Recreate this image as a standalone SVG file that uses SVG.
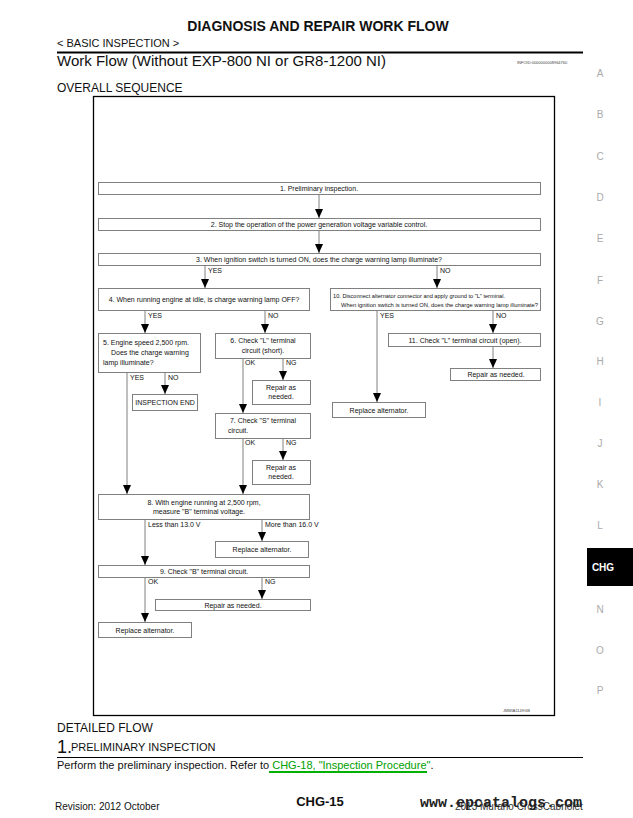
<svg xmlns="http://www.w3.org/2000/svg" width="633" height="818" viewBox="0 0 633 818">
<defs>
<style>
text{font-family:"Liberation Sans",Arial,sans-serif;fill:#111}
.b rect{fill:#fff;stroke:#808080;stroke-width:1}
.t{font-size:7px}
.c{text-anchor:middle}
.lbl{font-size:7px}
.side{font-size:10px;fill:#aaa;text-anchor:middle}
#conn line{stroke:#808080;stroke-width:1}
#conn line.a{marker-end:url(#ah)}
</style>
<marker id="ah" markerUnits="userSpaceOnUse" markerWidth="9" markerHeight="8" refX="9" refY="4" orient="auto" viewBox="0 0 9 8">
<path d="M0,0 L9,4 L0,8 Z" fill="#000"/>
</marker>
</defs>
<rect width="633" height="818" fill="#fff"/>

<text x="318" y="31" class="c" style="font-size:14px;font-weight:bold">DIAGNOSIS AND REPAIR WORK FLOW</text>
<text x="57" y="47" style="font-size:11px">&lt; BASIC INSPECTION &gt;</text>
<line x1="57" y1="52.5" x2="583" y2="52.5" stroke="#000" stroke-width="2"/>
<text x="57" y="66" style="font-size:15px">Work Flow (Without EXP-800 NI or GR8-1200 NI)</text>
<text x="517" y="64" style="font-size:4px;fill:#444">INFOID:0000000008964760</text>
<text x="57" y="92" style="font-size:12px">OVERALL SEQUENCE</text>

<rect x="93.5" y="96.5" width="461" height="619" fill="none" stroke="#000" stroke-width="1.3"/>
<text x="503" y="712" style="font-size:4px;fill:#444">JMMIA1149GB</text>

<g id="conn">
<line class="a" x1="319" y1="195" x2="319" y2="218"/>
<line class="a" x1="319" y1="230" x2="319" y2="253"/>
<line class="a" x1="205" y1="265" x2="205" y2="288"/>
<line class="a" x1="437" y1="265" x2="437" y2="288"/>
<line class="a" x1="145" y1="310" x2="145" y2="333"/>
<line class="a" x1="265" y1="310" x2="265" y2="333"/>
<line class="a" x1="127" y1="372" x2="127" y2="494"/>
<line class="a" x1="165" y1="372" x2="165" y2="394"/>
<line class="a" x1="243" y1="358" x2="243" y2="413"/>
<line class="a" x1="283" y1="358" x2="283" y2="380"/>
<line class="a" x1="243" y1="438" x2="243" y2="494"/>
<line class="a" x1="283" y1="438" x2="283" y2="460"/>
<line class="a" x1="145" y1="519" x2="145" y2="565"/>
<line class="a" x1="262" y1="519" x2="262" y2="541"/>
<line class="a" x1="145" y1="577" x2="145" y2="622"/>
<line class="a" x1="262" y1="577" x2="262" y2="599"/>
<line class="a" x1="377" y1="310" x2="377" y2="402"/>
<line class="a" x1="493" y1="310" x2="493" y2="333"/>
<line class="a" x1="493" y1="346" x2="493" y2="368"/>
<g class="lbl">
<text x="208" y="273" class="t">YES</text>
<text x="440" y="273" class="t">NO</text>
<text x="148" y="318" class="t">YES</text>
<text x="268" y="318" class="t">NO</text>
<text x="130" y="380" class="t">YES</text>
<text x="168" y="380" class="t">NO</text>
<text x="245" y="365" class="t">OK</text>
<text x="286" y="365" class="t">NG</text>
<text x="245" y="445" class="t">OK</text>
<text x="286" y="445" class="t">NG</text>
<text x="148" y="527" class="t">Less than 13.0 V</text>
<text x="265" y="527" class="t">More than 16.0 V</text>
<text x="148" y="584" class="t">OK</text>
<text x="265" y="584" class="t">NG</text>
<text x="380" y="318" class="t">YES</text>
<text x="496" y="318" class="t">NO</text>
</g>
</g>

<g id="n1" class="b"><rect x="98.5" y="182.5" width="442" height="12"/><text x="319" y="191" class="t c">1. Preliminary inspection.</text></g>
<g id="n2" class="b"><rect x="98.5" y="218.5" width="442" height="12"/><text x="319" y="227" class="t c">2. Stop the operation of the power generation voltage variable control.</text></g>
<g id="n3" class="b"><rect x="98.5" y="253.5" width="442" height="12"/><text x="319" y="262" class="t c">3. When ignition switch is turned ON, does the charge warning lamp illuminate?</text></g>
<g id="n4" class="b"><rect x="98.5" y="288.5" width="211" height="22"/><text x="204" y="301.5" class="t c">4. When running engine at idle, is charge warning lamp OFF?</text></g>
<g id="n10" class="b"><rect x="330.5" y="288.5" width="210" height="22"/><text x="333" y="297.5" class="t" style="font-size:6.2px" textLength="172" lengthAdjust="spacingAndGlyphs">10. Disconnect alternator connector and apply ground to "L" terminal.</text><text x="341" y="306.5" class="t" style="font-size:6.2px" textLength="197" lengthAdjust="spacingAndGlyphs">When ignition switch is turned ON, does the charge warning lamp illuminate?</text></g>
<g id="n5" class="b"><rect x="98.5" y="333.5" width="102" height="39"/><text x="103" y="345" class="t">5. Engine speed 2,500 rpm.</text><text x="111" y="355" class="t">Does the charge warning</text><text x="103" y="365" class="t">lamp illuminate?</text></g>
<g id="n6" class="b"><rect x="215.5" y="333.5" width="95" height="25"/><text x="263" y="343" class="t c">6. Check "L" terminal</text><text x="263" y="353" class="t c">circuit (short).</text></g>
<g id="nEnd" class="b"><rect x="132.5" y="394.5" width="65" height="16"/><text x="165" y="405" class="t c">INSPECTION END</text></g>
<g id="nR6" class="b"><rect x="252.5" y="380.5" width="58" height="24"/><text x="281" y="389.5" class="t c">Repair as</text><text x="281" y="399" class="t c">needed.</text></g>
<g id="n7" class="b"><rect x="215.5" y="413.5" width="95" height="25"/><text x="263" y="423" class="t c">7. Check "S" terminal</text><text x="228" y="433" class="t">circuit.</text></g>
<g id="nR7" class="b"><rect x="252.5" y="460.5" width="58" height="24"/><text x="281" y="469.5" class="t c">Repair as</text><text x="281" y="479" class="t c">needed.</text></g>
<g id="n8" class="b"><rect x="98.5" y="494.5" width="211" height="25"/><text x="204" y="504.5" class="t c">8. With engine running at 2,500 rpm,</text><text x="199" y="514" class="t c">measure "B" terminal voltage.</text></g>
<g id="nRA8" class="b"><rect x="215.5" y="541.5" width="93" height="16"/><text x="262" y="552" class="t c">Replace alternator.</text></g>
<g id="n9" class="b"><rect x="98.5" y="565.5" width="211" height="12"/><text x="204" y="574" class="t c">9. Check "B" terminal circuit.</text></g>
<g id="nR9" class="b"><rect x="155.5" y="599.5" width="155" height="11"/><text x="233" y="608" class="t c">Repair as needed.</text></g>
<g id="nRA9" class="b"><rect x="98.5" y="622.5" width="93" height="15"/><text x="145" y="632.5" class="t c">Replace alternator.</text></g>
<g id="n11" class="b"><rect x="388.5" y="333.5" width="152" height="13"/><text x="465" y="342.5" class="t c">11. Check "L" terminal circuit (open).</text></g>
<g id="nR11" class="b"><rect x="450.5" y="368.5" width="90" height="12"/><text x="496" y="377" class="t c">Repair as needed.</text></g>
<g id="nRA10" class="b"><rect x="332.5" y="402.5" width="93" height="15"/><text x="379" y="412.5" class="t c">Replace alternator.</text></g>

<g id="side">
<text x="600" y="77" class="side">A</text>
<text x="600" y="118" class="side">B</text>
<text x="600" y="160" class="side">C</text>
<text x="600" y="201" class="side">D</text>
<text x="600" y="242" class="side">E</text>
<text x="600" y="284" class="side">F</text>
<text x="600" y="325" class="side">G</text>
<text x="600" y="365" class="side">H</text>
<text x="600" y="406" class="side">I</text>
<text x="600" y="447" class="side">J</text>
<text x="600" y="488" class="side">K</text>
<text x="600" y="529" class="side">L</text>
<rect x="587" y="548" width="46" height="38" fill="#000"/>
<text x="603" y="571" class="c" style="font-size:10px;font-weight:bold;fill:#fff">CHG</text>
<text x="600" y="613" class="side">N</text>
<text x="600" y="654" class="side">O</text>
<text x="600" y="694" class="side">P</text>
</g>

<text x="57" y="732" style="font-size:12px">DETAILED FLOW</text>
<text x="57" y="753" style="font-size:18px">1.</text>
<text x="71" y="751" style="font-size:11px">PRELIMINARY INSPECTION</text>
<line x1="57" y1="757.5" x2="583" y2="757.5" stroke="#000" stroke-width="1"/>
<text x="57" y="769" style="font-size:11px">Perform the preliminary inspection. Refer to <tspan fill="#00a000">CHG-18, "Inspection Procedure"</tspan>.</text>
<line x1="269" y1="772" x2="427" y2="772" stroke="#00b000" stroke-width="2"/>
<text x="55" y="810" style="font-size:10px">Revision: 2012 October</text>
<text x="320" y="806" class="c" style="font-size:13px;font-weight:bold">CHG-15</text>
<text x="455" y="810" style="font-size:10px;fill:#333">2013 Murano CrossCabriolet</text>
<text x="420" y="807" style="font-size:15px;font-weight:bold;font-family:'Liberation Mono',monospace;fill:#222">www.epcatalogs.com</text>
</svg>
